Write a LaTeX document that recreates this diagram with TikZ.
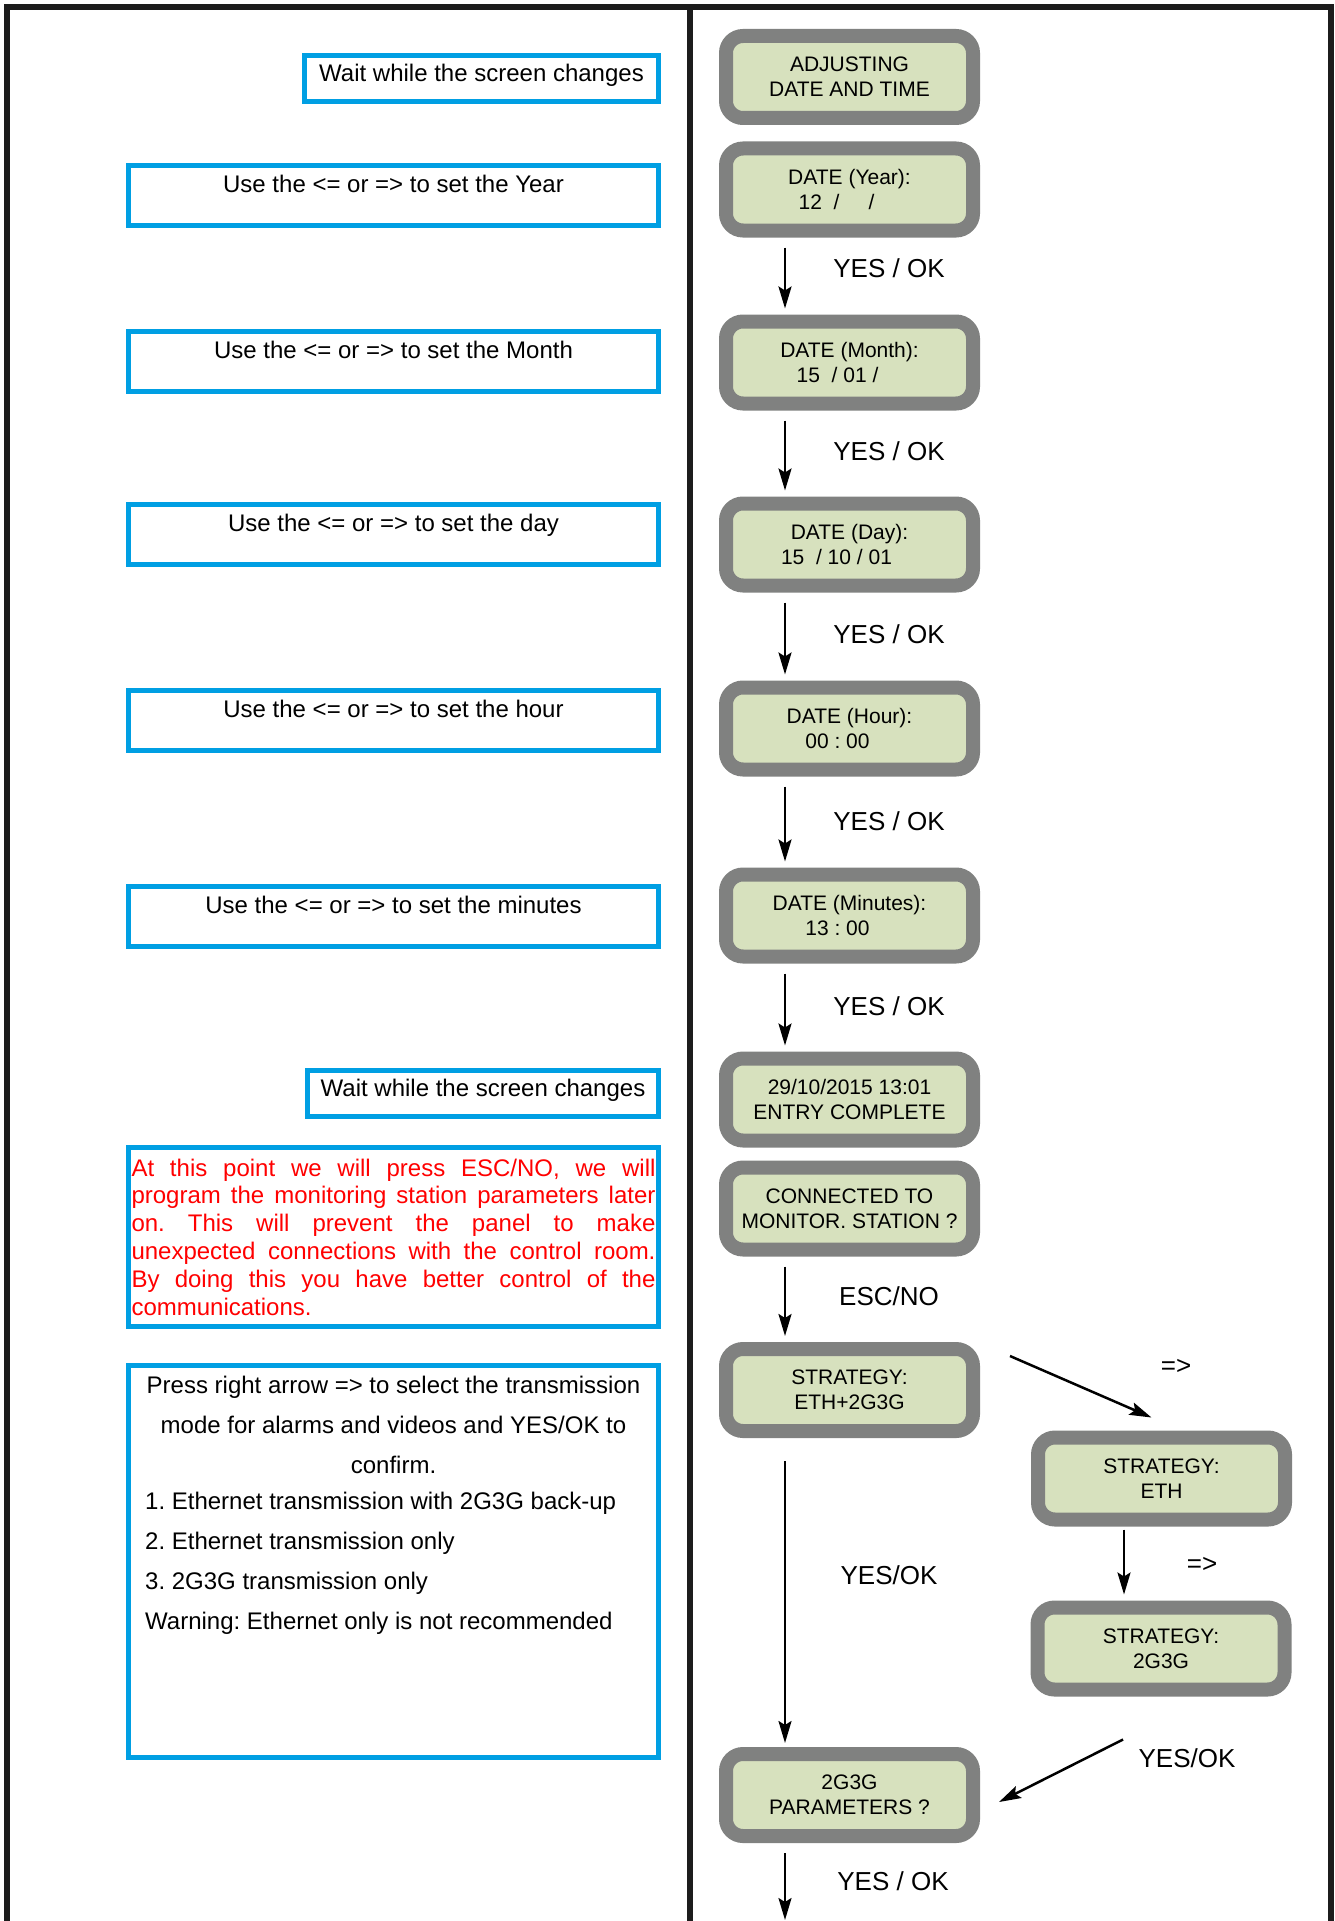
\documentclass[tikz,border=0pt]{standalone}
\usepackage{fontspec}
\setmainfont{Liberation Sans}
\usetikzlibrary{arrows.meta,positioning}
\frenchspacing

\definecolor{framegray}{RGB}{28,28,28}
\definecolor{hintblue}{RGB}{0,159,227}
\definecolor{lcdgray}{RGB}{128,129,128}
\definecolor{lcdgreen}{RGB}{215,225,190}

\begin{document}
\begin{tikzpicture}[x=1pt,y=-1pt,
		>={Stealth[length=22pt,width=13pt,inset=4pt]},
		frame/.style={line width=6pt,draw=framegray},
		hintbox/.style={draw=hintblue,line width=5pt,minimum width=530pt,inner sep=0pt,
			font=\fontsize{24pt}{40pt}\selectfont},
		hinttop/.style={hintbox,minimum height=60pt,text height=27pt,text depth=33pt},
		waitbox/.style={hintbox,minimum height=46pt,text height=26pt,text depth=20pt},
		hinttext/.style={inner sep=0pt,font=\fontsize{24pt}{40pt}\selectfont},
		lcd/.style={draw=lcdgray,fill=lcdgreen,line width=14pt,rounded corners=17pt,
			minimum width=247pt,minimum height=82pt,align=center,inner sep=0pt,
			font=\fontsize{21pt}{25pt}\selectfont},
		key/.style={inner sep=0pt,font=\fontsize{26pt}{30pt}\selectfont},
		flow/.style={->,line width=2.5pt,shorten <=10pt,shorten >=6pt}]
				\path[use as bounding box]
				(0,0) rectangle (1335,1921);
				% outer frame and column divider
				\draw[frame] (6.5,1921) -- (6.5,7.5) -- (1330.5,7.5) -- (1330.5,1921);
				\draw[frame] (690,7.5) -- (690,1921);

				% hints
				\node[waitbox,minimum width=354pt] (wait1) at (481.5,78.5) {Wait while the screen changes};
				\node[hinttop] (hyear) at (393.5,195.5) {Use the <= or => to set the Year};
				\node[hinttop] (hmonth) at (393.5,361) {Use the <= or => to set the Month};
				\node[hinttop] (hday) at (393.5,534.5) {Use the <= or => to set the day};
				\node[hinttop] (hhour) at (393.5,720.5) {Use the <= or => to set the hour};
				\node[hinttop] (hminutes) at (393.5,916) {Use the <= or => to set the minutes};
				\node[waitbox,minimum width=351pt] (wait2) at (483,1093.5) {Wait while the screen changes};
				\node[hintbox,minimum height=179pt,text width=524pt,align=justify,text=red,
					font=\fontsize{24pt}{27.8pt}\selectfont] (hescape) at (393.5,1237)
					{At this point we will press ESC/NO, we will\linebreak
					program the monitoring station parameters later\linebreak
					on. This will prevent the panel to make\linebreak
					unexpected connections with the control room.\linebreak
					By doing this you have better control of the\linebreak
					communications.};
				\node[hintbox,minimum height=392pt] (hstrategy) at (393.5,1561.5) {};
				\node[hinttext,align=center] (hstrattop) at (393.5,1425)
					{Press right arrow => to select the transmission\\
					mode for alarms and videos and YES/OK to\\confirm.};
				\node[hinttext,align=left,anchor=west] (hstratlist) at (145,1563)
					{1. Ethernet transmission with 2G3G back-up\\
					2. Ethernet transmission only\\
					3. 2G3G transmission only\\
					Warning: Ethernet only is not recommended};

				% screens
				\node[lcd] (adjust) at (849.5,77) {ADJUSTING\\DATE AND TIME};
				\node[lcd] (year) at (849.5,189.5) {DATE (Year):\\12~~/~~~~~/\hspace*{26pt}};
				\node[lcd] (month) at (849.5,362.5) {DATE (Month):\\15~~/ 01 /\hspace*{24pt}};
				\node[lcd] (day) at (849.5,544.5) {DATE (Day):\\15~~/ 10 / 01\hspace*{26pt}};
				\node[lcd] (hour) at (849.5,728.5) {DATE (Hour):\\00 : 00\hspace*{24pt}};
				\node[lcd] (minutes) at (849.5,915.5) {DATE (Minutes):\\13 : 00\hspace*{24pt}};
				\node[lcd] (done) at (849.5,1099.5) {29/10/2015 13:01\\ENTRY COMPLETE};
				\node[lcd] (connected) at (849.5,1208.5) {CONNECTED TO\\MONITOR. STATION ?};
				\node[lcd] (stratboth) at (849.5,1390) {STRATEGY:\\ETH+2G3G};
				\node[lcd] (strateth) at (1161.5,1478.5) {STRATEGY:\\ETH};
				\node[lcd] (stratgsm) at (1161,1648.5) {STRATEGY:\\2G3G};
				\node[lcd] (params) at (849.5,1795) {2G3G\\PARAMETERS ?};
				\coordinate (exit) at (785,1921);

				% keys pressed
				\draw[flow] ([xshift=-64.5pt]year.south) -- ([xshift=-64.5pt]month.north);
				\draw[flow] ([xshift=-64.5pt]month.south) -- ([xshift=-64.5pt]day.north);
				\draw[flow] ([xshift=-64.5pt]day.south) -- ([xshift=-64.5pt]hour.north);
				\draw[flow] ([xshift=-64.5pt]hour.south) -- ([xshift=-64.5pt]minutes.north);
				\draw[flow] ([xshift=-64.5pt]minutes.south) -- ([xshift=-64.5pt]done.north);
				\draw[flow] ([xshift=-64.5pt]connected.south) -- ([xshift=-64.5pt]stratboth.north);
				\draw[flow,shorten <=23pt,shorten >=4pt] ([xshift=-64.5pt]stratboth.south) -- ([xshift=-64.5pt]params.north);
				\draw[flow,shorten <=0pt,shorten >=0pt] ([xshift=30pt,yshift=34pt]stratboth.east) -- ([xshift=-10pt,yshift=13pt]strateth.north);
				\draw[flow,shorten <=3pt] ([xshift=-37.5pt]strateth.south) -- ([xshift=-37pt]stratgsm.north);
				\draw[flow,shorten <=0pt,shorten >=0pt] ([xshift=-38pt,yshift=-43pt]stratgsm.south) -- ([xshift=19pt,yshift=-7pt]params.east);
				\draw[flow,shorten >=1pt] ([xshift=-64.5pt]params.south) -- (exit);

				\node[key] (k1) at (889,268) {YES / OK};
				\node[key] (k2) at (889,451) {YES / OK};
				\node[key] (k3) at (889,634) {YES / OK};
				\node[key] (k4) at (889,821) {YES / OK};
				\node[key] (k5) at (889,1006) {YES / OK};
				\node[key] (k6) at (889,1296) {ESC/NO};
				\node[key] (k7) at (889,1575) {YES/OK};
				\node[key] (k8) at (1176,1367) {=>};
				\node[key] (k9) at (1202,1565) {=>};
				\node[key] (k10) at (1187,1758) {YES/OK};
				\node[key] (k11) at (893,1881) {YES / OK};
			\end{tikzpicture}
\end{document}
